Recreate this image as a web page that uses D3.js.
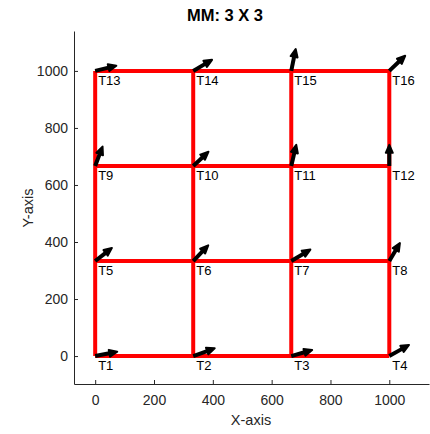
<!DOCTYPE html>
<html>
<head>
<meta charset="utf-8">
<script src="https://cdn.jsdelivr.net/npm/d3@7"></script>
<style>
  body { margin: 0; background: #fff; }
  text { font-family: "Liberation Sans", Arial, sans-serif; }
</style>
</head>
<body>
<div id="chart"></div>
<script>
// grid coordinates (3 x 3 cells)
const gridVals = [0, 333.33, 666.67, 1000];

// node labels, row by row from the bottom
const nodeNames = ["T1","T2","T3","T4","T5","T6","T7","T8","T9","T10","T11","T12","T13","T14","T15","T16"];

// arrow components per node (data units)
const arrowU = [75, 73, 71, 67, 57, 51, 65, 36, 25, 52, 17, 0, 72, 64, 15, 54];
const arrowV = [15, 27, 21, 39, 46, 55, 40, 63, 68, 50, 74, 74, 18, 39, 77, 53];

const xTicks = [0, 200, 400, 600, 800, 1000];
const yTicks = [0, 200, 400, 600, 800, 1000];

const W = 430, H = 434;
const margin = { left: 74, right: 1, top: 31, bottom: 50 };

const svg = d3.select("#chart").append("svg")
    .attr("width", W).attr("height", H);

const x = d3.scaleLinear().domain([-72, 1135]).range([margin.left, W - margin.right]);
const y = d3.scaleLinear().domain([-98, 1140]).range([H - margin.bottom, margin.top]);

const axisColor = "#262626";

// x axis
const gx = svg.append("g")
    .attr("transform", `translate(0,${H - margin.bottom})`)
    .call(d3.axisBottom(x).tickValues(xTicks).tickFormat(d3.format("d"))
        .tickSizeInner(-4).tickSizeOuter(0).tickPadding(11));
// y axis
const gy = svg.append("g")
    .attr("transform", `translate(${margin.left},0)`)
    .call(d3.axisLeft(y).tickValues(yTicks).tickFormat(d3.format("d"))
        .tickSizeInner(-4).tickSizeOuter(0).tickPadding(6));

[gx, gy].forEach(g => {
    g.select(".domain").attr("stroke", axisColor).attr("stroke-width", 1);
    g.selectAll(".tick line").attr("stroke", axisColor);
    g.selectAll(".tick text").attr("fill", axisColor).style("font-size", "14px");
});

// red grid lines
const lines = svg.append("g").attr("stroke", "#ff0000").attr("stroke-width", 4);
gridVals.forEach(v => {
    lines.append("line")
        .attr("x1", x(0)).attr("x2", x(1000))
        .attr("y1", y(v)).attr("y2", y(v));
    lines.append("line")
        .attr("x1", x(v)).attr("x2", x(v))
        .attr("y1", y(0)).attr("y2", y(1000));
});

// node data
const nodes = nodeNames.map((name, i) => ({
    name,
    gx: gridVals[i % 4],
    gy: gridVals[Math.floor(i / 4)],
    u: arrowU[i],
    v: arrowV[i]
}));

// arrows (quiver-like)
const arrows = svg.append("g");
nodes.forEach(d => {
    const x0 = x(d.gx), y0 = y(d.gy);
    const x1 = x(d.gx + d.u), y1 = y(d.gy + d.v);
    const ang = Math.atan2(y1 - y0, x1 - x0);
    const hl = 8, hw = 3.5;
    const bx = x1 - hl * Math.cos(ang), by = y1 - hl * Math.sin(ang);
    arrows.append("line")
        .attr("x1", x0).attr("y1", y0)
        .attr("x2", bx).attr("y2", by)
        .attr("stroke", "#000").attr("stroke-width", 4);
    const px = -Math.sin(ang) * hw, py = Math.cos(ang) * hw;
    arrows.append("path")
        .attr("d", `M${x1},${y1}L${bx + px},${by + py}L${bx - px},${by - py}Z`)
        .attr("fill", "#000").attr("stroke", "#000").attr("stroke-width", 2)
        .attr("stroke-linejoin", "round");
});

// node labels
svg.append("g").selectAll("text")
    .data(nodes).enter().append("text")
    .attr("x", d => x(d.gx) + 3)
    .attr("y", d => y(d.gy) + 14)
    .attr("fill", "#000")
    .style("font-size", "13px")
    .text(d => d.name);

// title and axis labels
svg.append("text")
    .attr("x", 225).attr("y", 21)
    .attr("text-anchor", "middle")
    .style("font-size", "16.5px").style("font-weight", "bold")
    .attr("fill", "#000")
    .text("MM: 3 X 3");

svg.append("text")
    .attr("x", 251).attr("y", 425)
    .attr("text-anchor", "middle")
    .style("font-size", "14.5px")
    .attr("fill", axisColor)
    .text("X-axis");

svg.append("text")
    .attr("transform", `translate(33,208) rotate(-90)`)
    .attr("text-anchor", "middle")
    .style("font-size", "14.5px")
    .attr("fill", axisColor)
    .text("Y-axis");
</script>
</body>
</html>
